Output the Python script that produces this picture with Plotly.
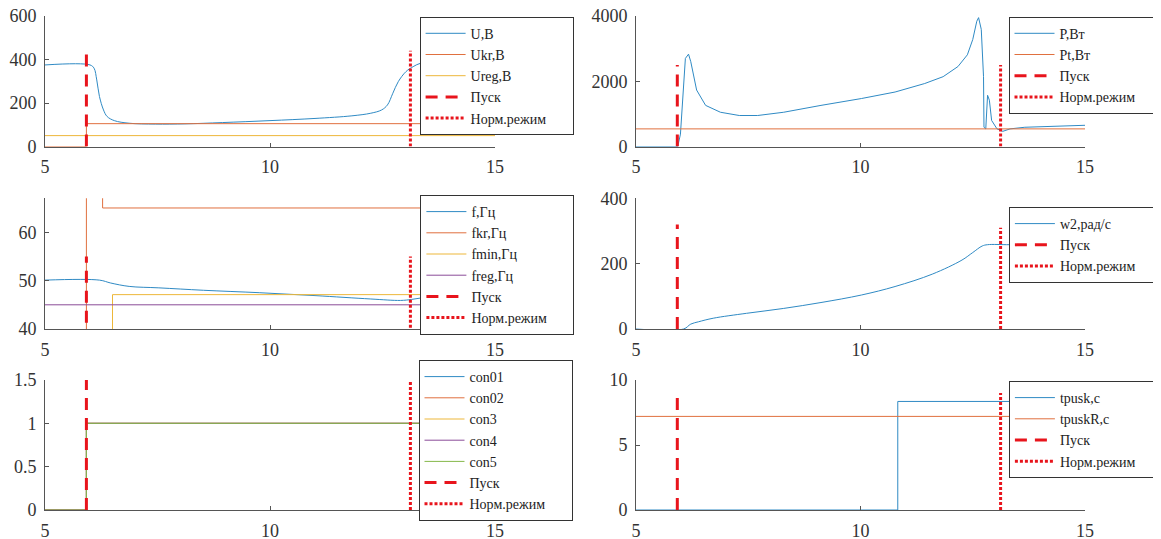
import plotly.graph_objects as go

# ---------------- data ----------------
T_START = 5.92   # Пуск
T_NORM = 13.12   # Норм.режим

# Panel 1: voltages
t_U = [5, 6.0, 6.09, 6.15, 6.21, 6.3, 6.38, 6.54, 6.87, 7.45, 8.11, 8.94, 10.0, 11.0,
       11.82, 12.24, 12.48, 12.61, 12.73, 12.85, 13.02, 13.18, 13.35, 13.6, 15]
U = [375, 375, 360, 306, 230, 168, 138, 119, 107, 103, 104, 110, 119, 129,
     141, 153, 168, 191, 245, 298, 344, 367, 383, 385, 385]
t_Ukr = [5, 5.92, 5.92, 15]
Ukr = [0, 0, 105, 105]
t_Ureg = [5, 15]
Ureg = [50, 50]
tops_1 = [450, 440]

# Panel 2: power
t_P = [5, 5.93, 5.99, 6.1, 6.17, 6.22, 6.35, 6.55, 6.88, 7.3, 7.71, 8.29, 9.12, 10.02,
       10.77, 11.43, 11.84, 12.17, 12.38, 12.5, 12.59, 12.63, 12.69, 12.74, 12.75, 12.79,
       12.83, 12.87, 12.92, 13.04, 13.17, 13.33, 13.66, 14.49, 15]
P = [0, 0, 380, 2700, 2830, 2600, 1730, 1260, 1050, 950, 950, 1050, 1260, 1470,
     1670, 1930, 2140, 2450, 2810, 3280, 3840, 3950, 3590, 2140, 590, 540,
     1570, 1420, 800, 540, 465, 540, 590, 640, 650]
t_Pt = [5, 15]
Pt = [540, 540]
tops_2 = [2500, 2500]

# Panel 3: frequencies
t_f = [5, 6.21, 6.46, 6.87, 7.53, 8.52, 9.76, 11.0, 12.24, 12.9, 13.14, 13.35, 13.6, 15]
f = [50.1, 50.1, 49.5, 48.8, 48.5, 48.0, 47.5, 46.9, 46.2, 45.9, 46.1, 46.4, 46.6, 46.6]
t_fkr = [5, 5.92, 5.92, 6.28, 6.28, 15]
fkr = [0, 0, 100, 100, 65, 65]
t_fmin = [5, 6.5, 6.5, 15]
fmin = [0, 0, 47.1, 47.1]
t_freg = [5, 15]
freg = [45, 45]
tops_3 = [55, 55]

# Panel 4: rotor speed
t_w2 = [5, 6.06, 6.22, 6.39, 6.72, 7.46, 8.29, 9.12, 10.02, 10.77, 11.6, 12.26,
        12.5, 12.71, 12.83, 13.33, 15]
w2 = [0, 0, 15, 22, 33, 48, 63, 81, 104, 130, 168, 211, 234, 254, 258, 258, 258]
tops_4 = [320, 310]

# Panel 5: contactors
t_con = [5, 5.92, 5.92, 15]
con01 = [0, 0, 1, 1]
con02 = [0, 0, 1, 1]
con3 = [0, 0, 1, 1]
con4 = [0, 0, 1, 1]
con5 = [0, 0, 1, 1]
tops_5 = [1.5, 1.5]

# Panel 6: start time
t_tpusk = [5, 10.83, 10.83, 15]
tpusk = [0, 0, 8.35, 8.35]
t_tpuskR = [5, 15]
tpuskR = [7.2, 7.2]
tops_6 = [9, 9]

# ---------------- style ----------------
C = ["#2f8ac4", "#e0703f", "#edb73a", "#8a4c98", "#86b84a"]
RED = "#e8141c"
FONT = "Liberation Serif, Times New Roman, serif"
W, H = 1161, 539
OFF = 8  # page body margin in the browser
PAD = "\u00a0" * 6  # widens legend boxes to the reference width

def px_x(v):
    return (v - OFF) / W

def px_y(v):
    return 1 - (v - OFF) / H

xl = [px_x(45), px_x(495)]
xr = [px_x(636), px_x(1085)]
r1 = [px_y(146.5), px_y(16)]
r2 = [px_y(329), px_y(198.3)]
r3 = [px_y(510), px_y(380)]

fig = go.Figure()

def add(t, y, name, color, xa, ya, leg, shape="linear"):
    fig.add_trace(go.Scatter(x=t, y=y, name=name, mode="lines",
                             line=dict(color=color, width=1, shape=shape),
                             xaxis=xa, yaxis=ya, legend=leg))

def add_marks(tops, xa, ya, leg):
    fig.add_trace(go.Scatter(x=[T_START, T_START], y=[0, tops[0]], name="Пуск", mode="lines",
                             line=dict(color=RED, width=3, dash="12px,8px"),
                             xaxis=xa, yaxis=ya, legend=leg))
    fig.add_trace(go.Scatter(x=[T_NORM, T_NORM], y=[0, tops[1]], name="Норм.режим" + PAD,
                             mode="lines", line=dict(color=RED, width=3, dash="3px,2px"),
                             xaxis=xa, yaxis=ya, legend=leg))

# panel 1
add(t_U, U, "U,B", C[0], "x", "y", "legend", "spline")
add(t_Ukr, Ukr, "Ukr,B", C[1], "x", "y", "legend")
add(t_Ureg, Ureg, "Ureg,B", C[2], "x", "y", "legend")
add_marks(tops_1, "x", "y", "legend")
# panel 2
add(t_P, P, "P,Вт", C[0], "x2", "y2", "legend2")
add(t_Pt, Pt, "Pt,Вт", C[1], "x2", "y2", "legend2")
add_marks(tops_2, "x2", "y2", "legend2")
# panel 3
add(t_f, f, "f,Гц", C[0], "x3", "y3", "legend3", "spline")
add(t_fkr, fkr, "fkr,Гц", C[1], "x3", "y3", "legend3")
add(t_fmin, fmin, "fmin,Гц", C[2], "x3", "y3", "legend3")
add(t_freg, freg, "freg,Гц", C[3], "x3", "y3", "legend3")
add_marks(tops_3, "x3", "y3", "legend3")
# panel 4
add(t_w2, w2, "w2,рад/с", C[0], "x4", "y4", "legend4", "spline")
add_marks(tops_4, "x4", "y4", "legend4")
# panel 5
for vals, nm, c in zip([con01, con02, con3, con4, con5],
                       ["con01", "con02", "con3", "con4", "con5"], C):
    add(t_con, vals, nm, c, "x5", "y5", "legend5")
add_marks(tops_5, "x5", "y5", "legend5")
# panel 6
add(t_tpusk, tpusk, "tpusk,c", C[0], "x6", "y6", "legend6")
add(t_tpuskR, tpuskR, "tpuskR,c", C[1], "x6", "y6", "legend6")
add_marks(tops_6, "x6", "y6", "legend6")

axis_common = dict(showline=True, linecolor="#555", linewidth=1, ticks="inside",
                   ticklen=4, tickcolor="#555", showgrid=False, zeroline=False,
                   automargin=False, ticklabeloverflow="allow",
                   tickfont=dict(family=FONT, size=18, color="#333"), mirror=False)

layout = dict(width=W, height=H, margin=dict(l=0, r=0, t=0, b=0, autoexpand=False),
              paper_bgcolor="white", plot_bgcolor="white", showlegend=True)

doms = [(xl, r1), (xr, r1), (xl, r2), (xr, r2), (xl, r3), (xr, r3)]
yranges = [[0, 600], [0, 4000], [40, 67], [0, 400], [0, 1.5], [0, 10]]
yticks = [[0, 200, 400, 600], [0, 2000, 4000], [40, 50, 60], [0, 200, 400],
          [0, 0.5, 1, 1.5], [0, 5, 10]]
for i, ((xd, yd), yr, yt) in enumerate(zip(doms, yranges, yticks)):
    s = "" if i == 0 else str(i + 1)
    layout["xaxis" + s] = dict(domain=xd, range=[5, 15], tickvals=[5, 10, 15],
                               anchor="y" + s, ticklabelstandoff=4, **axis_common)
    layout["yaxis" + s] = dict(domain=yd, range=yr, tickvals=yt,
                               anchor="x" + s, ticklabelstandoff=4, **axis_common)

leg_pos = [(419.6, 16.7), (1008.5, 16.7), (420.4, 195), (1008.9, 207),
           (418.5, 360), (1008.9, 381)]
for i, (lx, ly) in enumerate(leg_pos):
    s = "" if i == 0 else str(i + 1)
    layout["legend" + s] = dict(x=px_x(lx), y=px_y(ly), xanchor="left", yanchor="top",
                                bgcolor="white", bordercolor="#333", borderwidth=1,
                                font=dict(family=FONT, size=14, color="#222"),
                                itemwidth=40, tracegroupgap=0)

fig.update_layout(**layout)
fig.write_html("out.html")
